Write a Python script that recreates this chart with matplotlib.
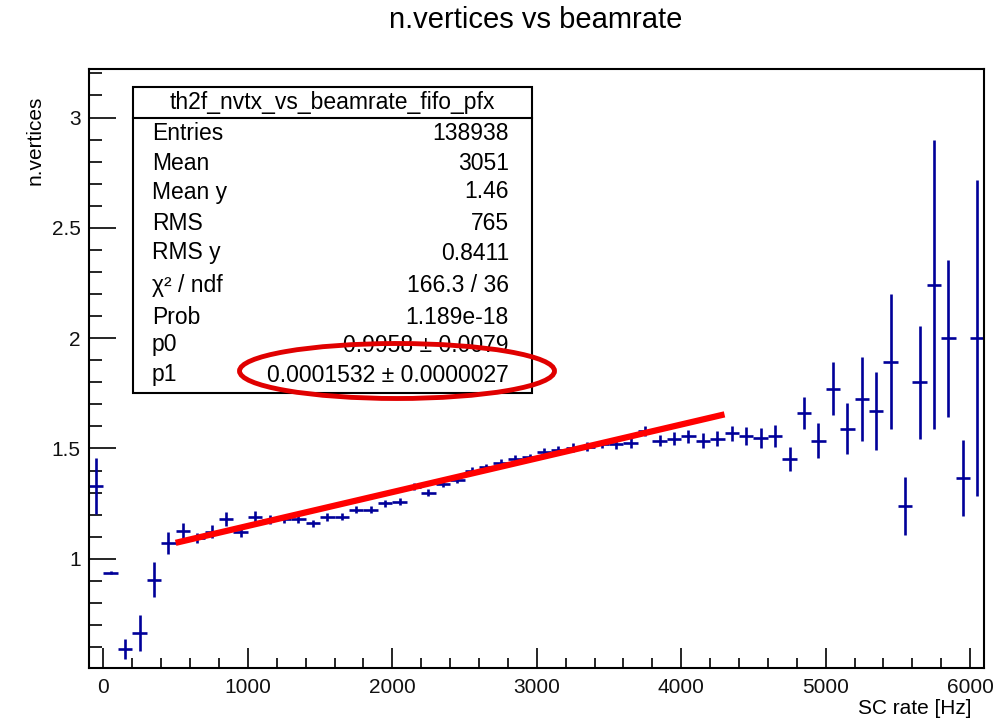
import matplotlib
matplotlib.use("Agg")
import matplotlib.pyplot as plt
from matplotlib.patches import Rectangle, Ellipse
from matplotlib.lines import Line2D
from matplotlib.ticker import MultipleLocator, FuncFormatter
import numpy as np

plt.rcParams["font.family"] = ["Liberation Sans", "DejaVu Sans"]

# profile of n.vertices vs SC rate, 100 Hz bins
rate = [-50, 50, 150, 250, 350, 450, 550, 650, 750, 850,
        950, 1050, 1150, 1250, 1350, 1450, 1550, 1650, 1750, 1850,
        1950, 2050, 2150, 2250, 2350, 2450, 2550, 2650, 2750, 2850,
        2950, 3050, 3150, 3250, 3350, 3450, 3550, 3650, 3750, 3850,
        3950, 4050, 4150, 4250, 4350, 4450, 4550, 4650, 4750, 4850,
        4950, 5050, 5150, 5250, 5350, 5450, 5550, 5650, 5750, 5850,
        5950, 6050]
nvtx = [1.33, 0.937, 0.592, 0.664, 0.905, 1.072, 1.127, 1.095, 1.122, 1.18,
        1.12, 1.19, 1.177, 1.18, 1.18, 1.16, 1.19, 1.19, 1.222, 1.222,
        1.252, 1.259, 1.327, 1.30, 1.34, 1.358, 1.40, 1.415, 1.435, 1.454,
        1.46, 1.486, 1.494, 1.503, 1.508, 1.52, 1.52, 1.526, 1.58, 1.535,
        1.545, 1.555, 1.535, 1.545, 1.57, 1.558, 1.548, 1.558, 1.453, 1.662,
        1.535, 1.77, 1.59, 1.726, 1.67, 1.893, 1.24, 1.80, 2.243, 2.0,
        1.367, 2.0]
nvtx_err = [0.125, 0.008, 0.044, 0.082, 0.08, 0.05, 0.033, 0.023, 0.03, 0.03,
            0.023, 0.027, 0.02, 0.017, 0.017, 0.017, 0.017, 0.016, 0.016, 0.016,
            0.015, 0.015, 0.015, 0.015, 0.015, 0.015, 0.015, 0.016, 0.016, 0.016,
            0.017, 0.017, 0.018, 0.02, 0.02, 0.02, 0.021, 0.022, 0.024, 0.026,
            0.028, 0.028, 0.034, 0.032, 0.034, 0.04, 0.045, 0.05, 0.053, 0.072,
            0.08, 0.12, 0.115, 0.19, 0.177, 0.306, 0.13, 0.256, 0.653, 0.356,
            0.172, 0.715]
bin_half = 50

# pol1 fit result
p0 = 0.9958
p0_err = 0.0079
p1 = 0.0001532
p1_err = 0.0000027
fit_range = [500, 4300]

stat_names = ["Entries", "Mean", "Mean y", "RMS", "RMS y", "\u03c7\u00b2 / ndf",
              "Prob", "p0", "p1"]
stat_values = ["138938", "3051", "1.46", "765", "0.8411", "166.3 / 36",
               "1.189e-18", f"{p0:.4f} \u00b1 {p0_err:.4f}",
               f"{p1:.7f} \u00b1 {p1_err:.7f}"]

W, H = 1004, 724
fig = plt.figure(figsize=(W / 100, H / 100), dpi=100)
ax = fig.add_axes([89 / W, 1 - 668 / H, (984.5 - 89) / W, (668 - 69) / H])

ax.errorbar(rate, nvtx, xerr=bin_half, yerr=nvtx_err, fmt="none",
            ecolor="#000099", elinewidth=1.9, capsize=0, zorder=2)

fx = np.array(fit_range, dtype=float)
ax.plot(fx, p0 + p1 * fx, color="red", lw=4.5, solid_capstyle="butt", zorder=3)

ax.set_xlim(-100, 6100)
ax.set_ylim(0.505, 3.22)
ax.xaxis.set_major_locator(MultipleLocator(1000))
ax.xaxis.set_minor_locator(MultipleLocator(200))
ax.yaxis.set_major_locator(MultipleLocator(0.5))
ax.yaxis.set_minor_locator(MultipleLocator(0.1))
ax.yaxis.set_major_formatter(FuncFormatter(lambda v, p: f"{v:g}"))
ax.tick_params(which="both", direction="in", top=False, right=False,
               labelsize=15, width=1.2, color="black", labelcolor="#111111")
ax.tick_params(axis="x", which="major", length=14.5, pad=7)
ax.tick_params(axis="x", which="minor", length=7.5)
ax.tick_params(axis="y", which="major", length=19.5, pad=6)
ax.tick_params(axis="y", which="minor", length=9.5)
for s in ax.spines.values():
    s.set_linewidth(1.5)

fig.text(536 / W, 1 - 20 / H, "n.vertices vs beamrate", ha="center",
         va="center", fontsize=21)
fig.text(972 / W, 1 - 708 / H, "SC rate [Hz]", ha="right", va="center",
         fontsize=15)
fig.text(35 / W, 1 - 96 / H, "n.vertices", ha="center", va="top",
         rotation=90, fontsize=15)

# statistics box
bx0, bx1, by0, by1 = 133, 532, 87, 393
fig.patches.append(Rectangle((bx0 / W, 1 - by1 / H), (bx1 - bx0) / W,
                             (by1 - by0) / H, transform=fig.transFigure,
                             facecolor="white", edgecolor="black", lw=1.5,
                             zorder=5))
fig.lines.append(Line2D([bx0 / W, bx1 / W], [1 - 117.5 / H, 1 - 117.5 / H],
                        transform=fig.transFigure, color="black", lw=1.5,
                        zorder=6))
fig.text((bx0 + bx1) / 2 / W, 1 - 102 / H, "th2f_nvtx_vs_beamrate_fifo_pfx",
         ha="center", va="center", fontsize=16.5, zorder=7)
row_y = [133, 163, 192, 223, 253, 285, 317, 345, 375]
for name, val, yy in zip(stat_names, stat_values, row_y):
    fig.text(152 / W, 1 - yy / H, name, ha="left", va="center", fontsize=16.5,
             zorder=7)
    fig.text(509 / W, 1 - yy / H, val, ha="right", va="center", fontsize=16.5,
             zorder=7)

# highlight around the slope
fig.patches.append(Ellipse((397 / W, 1 - 371 / H), 315 / W, 55 / H,
                           transform=fig.transFigure, fill=False,
                           edgecolor="#e00000", lw=3.5, zorder=8))

fig.savefig("out.png", dpi=100)
